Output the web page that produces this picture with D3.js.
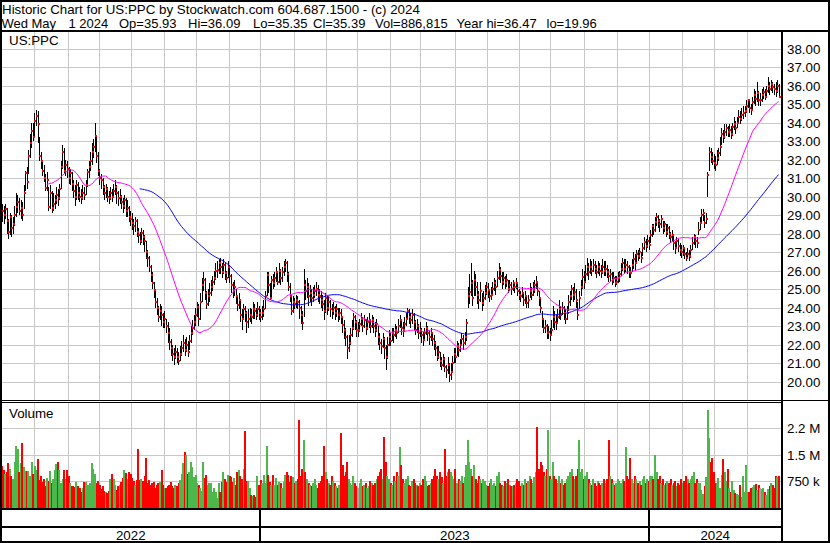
<!DOCTYPE html>
<html><head><meta charset="utf-8">
<script src="https://cdn.jsdelivr.net/npm/d3@7"></script>
<style>
html,body{margin:0;padding:0;background:#fff;}
svg{display:block;}
text{font-family:"Liberation Sans",Arial,sans-serif;font-size:13.33px;fill:#000;}
text.info{font-size:13px;}
</style></head>
<body><svg id="c" width="830" height="543"></svg>
<script>
// ---- DATA (daily bars, 2022-05-02 .. 2024-05-01) ----
const closes = [
29.2,29.0,29.3,28.7,28.1,28.9,28.3,28.5,29.0,29.45,
29.7,29.2,29.4,29.0,30.2,31.25,30.8,32.2,32.9,33.55,
33.2,34.1,34.36,33.9,32.2,31.9,31.4,31.0,30.46,30.9,
29.45,30.2,29.4,29.6,29.8,30.1,29.9,30.4,31.6,32.4,
31.4,31.7,31.5,31.0,31.25,30.7,30.3,30.0,30.6,30.2,
30.0,29.9,30.2,30.1,30.6,31.3,31.6,31.9,32.4,32.7,
33.3,32.2,31.4,31.0,30.9,30.5,30.2,30.4,30.0,29.9,
30.2,30.0,30.3,30.5,30.2,29.9,30.0,29.7,29.5,29.8,
29.2,29.4,28.9,28.8,28.55,28.4,28.7,28.1,27.9,27.6,
28.05,27.8,27.6,27.0,26.7,26.2,25.76,25.3,24.95,24.3,
24.0,23.5,23.8,23.6,23.2,23.4,23.0,22.6,22.16,21.8,
21.5,21.3,21.6,21.35,21.1,21.5,21.8,22.1,21.7,22.0,
21.6,22.2,22.6,22.9,23.2,23.6,24.05,23.4,24.3,25.2,
25.5,24.8,24.2,24.6,24.77,25.1,25.4,25.6,26.0,26.03,
26.4,26.2,25.9,26.3,25.85,25.6,26.2,25.7,25.2,24.95,
25.1,24.6,24.15,24.4,23.6,23.4,23.9,23.7,23.2,23.4,
23.6,23.5,23.9,23.8,23.6,23.9,23.7,23.5,23.7,23.9,
24.6,25.76,25.2,24.5,25.5,25.3,25.6,25.9,25.4,26.0,
25.6,25.9,26.2,26.4,25.8,25.13,24.6,23.8,24.3,24.2,
24.4,24.3,24.0,23.6,23.15,25.2,24.9,25.1,24.6,24.8,
24.5,24.7,24.9,25.0,24.7,24.6,24.4,24.2,23.8,24.5,
24.0,24.3,23.9,23.8,24.0,23.7,23.9,23.6,23.7,23.5,
23.06,22.8,22.4,21.8,22.07,22.5,22.9,23.5,23.2,22.8,
22.8,23.1,23.4,23.0,23.3,22.9,23.2,23.3,23.0,23.3,
23.0,22.8,23.1,22.4,22.07,21.9,22.3,21.8,21.3,22.0,
22.4,22.2,22.6,22.5,22.8,22.6,23.0,23.3,22.9,22.8,
23.1,23.4,23.8,23.5,23.3,23.6,23.2,22.8,23.0,22.6,
22.8,22.5,22.25,22.6,22.9,22.6,22.4,22.6,22.3,22.1,
21.8,21.35,21.6,21.1,20.9,21.2,20.8,20.6,20.9,20.36,
20.5,21.0,21.5,21.3,21.9,21.7,22.0,22.3,22.1,22.4,
23.15,24.6,24.86,25.3,24.5,25.5,25.1,24.7,24.4,24.9,
24.23,24.5,24.8,25.1,24.95,24.6,24.7,25.0,25.3,25.1,
25.6,26.03,25.7,25.4,25.6,25.3,25.5,25.0,25.2,25.0,
25.3,25.1,25.3,24.9,24.7,24.6,24.8,24.4,24.6,24.23,
24.4,24.9,24.7,24.95,25.2,25.4,24.9,24.5,23.96,23.4,
22.9,23.0,22.6,22.7,22.5,22.8,23.5,23.2,23.15,23.5,
23.9,23.6,24.0,23.7,23.4,23.7,24.3,24.6,25.0,24.7,
24.86,24.4,23.6,24.5,25.1,25.67,25.4,25.8,26.2,25.9,
26.2,26.0,26.3,26.1,25.9,26.2,26.0,25.94,26.2,26.0,
26.1,25.94,25.7,25.8,25.5,25.6,25.3,25.4,25.6,25.8,
26.1,26.4,26.1,26.3,26.2,25.9,25.85,26.3,26.6,26.4,
26.9,26.8,27.0,26.7,27.2,27.56,27.3,27.6,27.4,27.9,
28.4,28.2,28.6,28.9,28.7,28.5,28.8,28.3,28.5,28.1,
28.3,28.0,27.8,27.9,27.5,27.2,27.6,27.3,27.1,27.02,
27.2,26.9,26.7,26.9,26.8,27.1,27.5,27.8,27.6,27.5,
28.2,28.55,29.0,29.09,28.55,28.8,31.16,32.4,32.15,31.9,
31.8,31.7,32.1,32.33,32.7,33.4,33.2,33.5,33.68,33.5,
33.6,33.4,33.77,33.9,33.7,34.0,34.3,34.2,34.4,34.5,
34.6,34.9,35.2,34.8,34.67,35.1,35.5,35.3,35.6,35.2,
35.2,35.5,35.66,35.4,35.7,36.0,35.8,36.1,35.9,35.8,
35.7,35.95,35.39];

const highs = [
29.6,29.5,29.6,29.4,28.8,29.1,29.0,28.9,29.5,30.2,
30.1,29.9,29.8,29.7,30.6,31.4,31.6,32.5,33.4,33.95,
34.0,34.5,34.67,34.6,33.2,32.4,31.9,31.7,31.2,31.3,
30.5,30.6,30.3,30.2,30.1,30.5,30.4,30.7,31.9,32.8,
32.6,32.0,31.9,31.6,31.5,31.3,30.9,30.6,30.9,30.8,
30.5,30.4,30.6,30.5,30.9,31.5,31.9,32.4,32.9,33.1,
33.95,33.2,32.4,31.5,31.2,31.0,30.6,30.7,30.5,30.3,
30.5,30.4,30.7,30.9,30.6,30.3,30.4,30.1,29.9,30.1,
29.9,29.8,29.5,29.2,29.1,28.8,28.9,28.8,28.3,28.1,
28.3,28.2,27.9,27.6,27.1,26.8,26.3,25.9,25.4,25.0,
24.5,24.1,24.2,24.1,23.7,23.8,23.4,23.2,22.9,22.3,
22.0,21.8,22.0,21.8,21.6,21.9,22.2,22.5,22.3,22.4,
22.2,22.5,23.0,23.3,23.6,24.0,24.3,24.2,24.8,25.6,
25.9,25.6,24.9,25.0,25.3,25.5,25.7,26.0,26.4,26.5,
26.6,26.7,26.4,26.6,26.4,26.0,26.5,26.3,25.8,25.4,
25.5,25.0,24.7,24.8,24.4,23.9,24.2,24.1,23.8,23.9,
24.0,23.9,24.3,24.2,24.0,24.3,24.1,23.9,24.1,24.4,
24.9,25.9,25.9,25.3,25.7,25.8,25.9,26.2,26.0,26.4,
26.1,26.2,26.5,26.6,26.5,25.9,25.3,24.7,24.6,24.5,
24.7,24.6,24.4,24.1,23.8,26.1,25.5,25.6,25.3,25.2,
25.0,25.1,25.2,25.4,25.2,25.0,24.9,24.7,24.4,24.8,
24.6,24.6,24.4,24.2,24.3,24.1,24.2,24.0,24.0,23.9,
23.5,23.3,22.9,22.5,22.5,22.9,23.3,23.7,23.6,23.3,
23.2,23.4,23.7,23.5,23.6,23.4,23.5,23.7,23.4,23.6,
23.5,23.2,23.4,23.0,22.6,22.3,22.6,22.4,22.0,22.4,
22.8,22.6,22.9,22.9,23.1,23.0,23.4,23.6,23.4,23.2,
23.5,23.7,24.0,23.9,23.7,23.9,23.7,23.3,23.4,23.1,
23.2,22.9,22.7,22.9,23.2,23.0,22.8,22.9,22.7,22.5,
22.2,21.9,21.9,21.6,21.3,21.5,21.3,20.9,21.3,21.0,
21.0,21.4,21.8,21.8,22.2,22.1,22.3,22.6,22.5,22.7,
23.4,25.1,25.8,26.4,25.5,26.0,25.8,25.4,24.9,25.4,
24.8,24.9,25.2,25.4,25.3,25.0,25.1,25.4,25.6,25.5,
26.0,26.4,26.2,25.9,25.9,25.7,25.8,25.5,25.5,25.4,
25.5,25.4,25.6,25.3,25.0,24.9,25.1,24.8,24.9,24.6,
24.7,25.3,25.1,25.4,25.5,25.7,25.4,24.9,24.5,23.8,
23.3,23.3,23.1,23.0,22.9,23.3,24.1,23.8,23.6,23.9,
24.4,24.1,24.3,24.1,23.9,24.1,24.7,24.9,25.2,25.1,
25.3,25.0,24.3,24.9,25.5,26.1,26.0,26.3,26.7,26.4,
26.6,26.5,26.6,26.5,26.3,26.5,26.4,26.3,26.6,26.5,
26.5,26.3,26.1,26.1,25.9,25.9,25.7,25.7,25.9,26.0,
26.4,26.7,26.6,26.6,26.5,26.3,26.2,26.6,27.0,26.9,
27.1,27.1,27.2,27.0,27.5,27.8,27.7,27.9,27.8,28.2,
28.5,28.5,28.9,29.09,29.0,28.8,29.0,28.7,28.7,28.5,
28.5,28.4,28.1,28.2,27.9,27.6,27.8,27.7,27.5,27.4,
27.4,27.2,27.0,27.2,27.1,27.4,27.8,28.0,27.9,27.8,
28.6,28.9,29.3,29.3,29.0,29.1,31.3,32.7,32.6,32.4,
32.3,32.2,32.5,32.6,33.2,33.7,33.6,33.9,33.9,33.8,
33.9,33.8,34.0,34.3,34.1,34.3,34.7,34.6,34.8,34.9,
34.9,35.2,35.3,35.2,35.0,35.4,35.8,35.7,36.2,35.7,
35.6,35.8,35.9,35.8,36.0,36.47,36.2,36.3,36.2,36.1,
36.2,36.3,36.09];

const lows = [
28.6,28.5,28.8,28.0,27.7,27.9,27.8,28.0,28.4,28.9,
29.1,29.0,28.8,28.7,29.3,30.3,30.4,31.2,32.1,32.6,
33.0,33.2,33.8,32.9,31.9,31.5,31.1,30.8,30.3,30.3,
29.2,29.3,29.1,29.2,29.3,29.6,29.5,29.8,30.4,31.5,
31.2,31.1,31.0,30.7,30.6,30.3,29.9,29.5,29.8,29.8,
29.7,29.6,29.8,29.8,30.1,30.5,31.0,31.4,31.7,32.1,
32.4,31.8,31.1,30.6,30.4,30.1,29.8,29.9,29.7,29.6,
29.8,29.7,29.9,30.1,29.6,29.5,29.6,29.3,29.1,29.3,
28.9,28.9,28.6,28.4,28.2,27.9,28.1,27.8,27.5,27.4,
27.5,27.4,27.0,26.6,26.2,25.9,25.4,25.0,24.5,24.0,
23.6,23.2,23.3,23.0,22.9,22.9,22.6,22.1,21.7,21.4,
21.1,20.9,21.2,21.0,20.9,21.1,21.4,21.6,21.4,21.6,
21.3,21.7,22.1,22.5,22.8,23.0,23.5,23.0,23.3,24.3,
24.9,24.4,23.9,24.1,24.3,24.6,24.9,25.2,25.5,25.6,
25.8,25.8,25.6,25.8,25.5,25.3,25.6,25.3,24.8,24.5,
24.6,24.2,23.8,23.9,23.2,22.8,23.3,23.2,22.6,22.9,
23.2,23.1,23.4,23.4,23.3,23.5,23.3,23.2,23.3,23.5,
23.9,24.6,24.8,24.4,24.5,25.0,25.1,25.4,25.2,25.3,
25.2,25.4,25.7,25.9,25.4,24.9,24.3,23.6,23.7,23.9,
24.0,23.9,23.4,23.1,22.8,23.5,24.4,24.5,24.1,24.3,
24.1,24.3,24.5,24.6,24.3,24.2,24.0,23.8,23.3,23.7,
23.6,23.8,23.5,23.4,23.6,23.3,23.5,23.2,23.3,23.1,
22.6,22.3,21.9,21.2,21.6,22.0,22.4,22.8,22.8,22.4,
22.4,22.7,23.0,22.7,22.9,22.5,22.8,22.9,22.6,22.9,
22.6,22.4,22.7,22.0,21.7,21.5,21.8,21.2,20.63,21.2,
21.9,21.9,22.2,22.1,22.4,22.3,22.6,22.9,22.5,22.4,
22.7,23.0,23.3,23.1,22.9,23.1,22.8,22.5,22.6,22.3,
22.4,22.1,21.9,22.2,22.5,22.2,22.0,22.2,21.9,21.7,
21.4,21.1,21.2,20.8,20.6,20.8,20.5,20.2,20.4,19.96,
20.1,20.5,21.0,21.0,21.4,21.3,21.6,21.9,21.7,22.0,
22.2,24.0,24.2,24.6,24.1,24.6,24.6,24.2,23.9,24.3,
23.8,24.1,24.4,24.7,24.5,24.3,24.4,24.6,24.9,24.7,
25.1,25.5,25.3,25.0,25.2,25.0,25.1,24.8,24.9,24.7,
24.9,24.8,25.0,24.6,24.4,24.3,24.5,24.1,24.2,24.0,
24.0,24.5,24.4,24.6,24.8,25.0,24.6,24.1,23.7,22.9,
22.6,22.6,22.3,22.3,22.2,22.5,22.9,22.8,22.8,23.1,
23.4,23.3,23.6,23.3,23.1,23.3,23.8,24.1,24.4,24.3,
24.4,24.0,23.3,23.9,24.6,25.0,25.0,25.3,25.7,25.5,
25.8,25.7,25.9,25.8,25.6,25.8,25.7,25.6,25.8,25.7,
25.7,25.6,25.4,25.4,25.2,25.3,25.1,25.2,25.3,25.4,
25.7,26.0,25.8,25.9,25.8,25.6,25.6,25.9,26.1,26.0,
26.4,26.5,26.6,26.4,26.8,27.1,27.0,27.2,27.1,27.5,
27.8,27.9,28.1,28.4,28.3,28.1,28.3,28.0,28.1,27.8,
27.9,27.7,27.5,27.6,27.1,26.9,27.2,27.0,26.8,26.7,
26.8,26.6,26.5,26.6,26.5,26.7,27.1,27.4,27.2,27.2,
27.9,28.2,28.6,28.7,28.3,28.5,29.96,31.4,31.8,31.7,
31.5,31.4,31.7,31.9,32.2,32.8,32.9,33.1,33.3,33.2,
33.2,33.1,33.3,33.6,33.4,33.7,34.0,33.9,34.1,34.2,
34.3,34.5,34.8,34.5,34.4,34.7,35.0,34.9,35.1,34.9,
34.9,35.1,35.3,35.2,35.4,35.6,35.5,35.7,35.6,35.5,
35.4,35.6,35.35];

// volume in thousands of shares
const volumes = [
1180,1050,950,1000,1260,1100,900,820,1300,1740,
1650,1000,1250,1820,1150,1020,1020,1020,900,1300,
950,1180,1050,1380,780,900,720,800,620,830,
740,1030,680,800,1060,1230,1300,1060,700,800,
1060,820,1060,900,680,620,600,580,720,620,
550,450,550,720,720,640,640,700,1250,1100,
950,700,760,640,520,600,480,450,400,470,
820,960,800,650,500,600,650,720,830,1060,
980,820,1000,940,830,760,640,780,1650,790,
800,760,900,1390,680,780,640,700,720,560,
640,700,720,1060,630,560,560,600,640,720,
600,540,640,610,700,780,960,1270,1580,1500,
950,1000,1300,1150,850,920,700,640,560,480,
1300,830,920,640,700,680,450,540,450,260,
680,450,730,1010,800,730,920,880,850,730,
830,640,1010,1060,900,800,1100,2170,740,760,
540,350,330,350,300,890,640,780,700,920,
700,1740,920,730,640,920,640,830,640,730,
680,540,730,920,1010,920,730,880,850,700,
750,820,2480,900,1100,1900,1000,800,700,650,
600,700,800,650,550,700,750,900,1750,1000,
800,700,650,900,750,700,600,550,650,2100,
1200,900,1000,1300,800,700,650,900,700,600,
550,700,800,600,650,700,550,600,750,700,
650,700,800,900,1000,1100,800,2000,1300,900,
800,700,650,900,750,1000,900,1700,1200,800,
700,800,900,650,600,750,800,700,650,600,
700,650,800,900,750,600,650,700,800,900,
1100,900,800,1000,850,700,1650,900,1000,1100,
1000,900,800,1100,700,800,750,900,700,850,
1200,1900,1300,1100,900,1200,800,700,900,800,
700,800,750,650,600,700,800,650,700,600,
900,1000,700,650,600,750,700,800,650,600,
600,650,700,800,750,600,700,650,800,700,
750,900,800,700,850,1000,2280,1100,1300,1200,
1000,900,1100,2200,900,800,1300,900,800,700,
900,700,800,650,700,800,900,1000,1100,900,
800,900,1100,1900,1000,1100,800,900,1000,800,
700,650,800,700,600,750,700,650,700,800,
700,800,1900,900,800,700,650,700,800,750,
700,800,750,1700,900,800,1400,800,700,900,
800,700,750,650,800,900,700,800,750,900,
900,800,1500,1000,800,900,700,800,650,700,
750,700,800,650,700,750,600,700,650,800,
700,750,900,800,700,800,900,1000,700,800,
700,690,500,390,600,870,2760,1960,1300,1390,
1010,700,680,830,540,920,1370,1010,750,1100,
540,450,750,500,400,380,360,650,300,880,
450,1200,430,450,540,590,640,660,500,640,
540,520,540,450,350,520,600,700,650,550,
900,850,880];

const priceTicks = [20,21,22,23,24,25,26,27,28,29,30,31,32,33,34,35,36,37,38];
const volumeTicks = [750, 1500, 2250];
const volumeTickLabels = ["750 k", "1.5 M", "2.2 M"];
const monthStarts = [21,43,63,84,105,126,147,167.5,189,210,230,251,271,293,314,335,355,376.5,398,419,440,461,482];
const yearLabels = ["2022","2023","2024"];
const yearStarts = [0,167.5,419];
const maShort = 30, maLong = 90;
const title = "Historic Chart for US:PPC by Stockwatch.com 604.687.1500 - (c) 2024";
const infoParts = ["Wed","May","1 2024","Op=35.93","Hi=36.09","Lo=35.35","Cl=35.39","Vol=886,815","Year hi=36.47","lo=19.96"];
const symbol = "US:PPC";

// ---- CHECK ----
const N = closes.length;
if (highs.length !== N || lows.length !== N || volumes.length !== N) throw new Error("len " + N + " " + highs.length + " " + lows.length + " " + volumes.length);

// ---- LAYOUT ----
const W = 830, H = 543;
const plotL = 2, plotR = 781;
const priceT = 32, priceB = 400, volT = 403, volB = 508;
const svg = d3.select("#c");
svg.append("rect").attr("width", W).attr("height", H).attr("fill", "#fff");

const x = d3.scaleLinear().domain([0, 502]).range([2, 778.6]);
const y = d3.scaleLinear().domain([19, 38.95]).range([400, 31]);
const yv = d3.scaleLinear().domain([0, 2960]).range([507.5, 403]);

// grid
const grid = svg.append("g").attr("stroke", "#c8c8c8").attr("stroke-width", 1).attr("shape-rendering", "crispEdges");
priceTicks.forEach(p => {
  const gy = Math.round(y(p)) + 0.5;
  grid.append("line").attr("x1", plotL).attr("x2", plotR).attr("y1", gy).attr("y2", gy);
});
volumeTicks.forEach(v => {
  const gy = Math.round(yv(v)) + 0.5;
  grid.append("line").attr("x1", plotL).attr("x2", plotR).attr("y1", gy).attr("y2", gy);
});
monthStarts.forEach(m => {
  const gx = Math.round(x(m - 0.5)) + 0.5;
  grid.append("line").attr("x1", gx).attr("x2", gx).attr("y1", priceT).attr("y2", priceB);
  grid.append("line").attr("x1", gx).attr("x2", gx).attr("y1", volT).attr("y2", volB);
});

// volume bars
const vg = svg.append("g").attr("shape-rendering", "crispEdges");
volumes.forEach((v, i) => {
  let c = "#ff0000";
  if (i > 0) c = closes[i] > closes[i - 1] ? "#4cb84c" : (closes[i] < closes[i - 1] ? "#ff0000" : "#a8a8a8");
  const bx = Math.round(x(i) - 0.8);
  const ty = Math.round(yv(v));
  vg.append("rect").attr("x", bx).attr("y", ty).attr("width", 2).attr("height", volB - ty).attr("fill", c);
});

// price bars
const pg = svg.append("g").attr("shape-rendering", "crispEdges");
closes.forEach((c, i) => {
  const bx = Math.round(x(i));
  const yt = Math.round(y(highs[i])), yb = Math.round(y(lows[i]));
  pg.append("rect").attr("x", bx).attr("y", yt).attr("width", 1).attr("height", Math.max(1, yb - yt)).attr("fill", "#000");
});
closes.forEach((c, i) => {
  const bx = Math.round(x(i));
  pg.append("rect").attr("x", bx).attr("y", Math.round(y(c)) - 1).attr("width", 2).attr("height", 2).attr("fill", "#ff0000");
});

// moving averages
function movingAvg(n) {
  return closes.map((c, i) => i < n - 1 ? null : d3.mean(closes.slice(i - n + 1, i + 1)));
}
const line = d3.line().defined(d => d != null).x((d, i) => x(i)).y(d => y(d));
svg.append("path").datum(movingAvg(maLong)).attr("d", line).attr("fill", "none").attr("stroke", "#0000ff").attr("stroke-width", 1);
svg.append("path").datum(movingAvg(maShort)).attr("d", line).attr("fill", "none").attr("stroke", "#ff00ff").attr("stroke-width", 1);

// frame
const fg = svg.append("g").attr("fill", "#000").attr("shape-rendering", "crispEdges");
function box(x0, y0, w, h) { fg.append("rect").attr("x", x0).attr("y", y0).attr("width", w).attr("height", h); }
box(0, 0, W, 2);
box(0, 0, 2, H);
box(W - 2, 0, 2, H);
box(0, H - 2, W, 2);
box(0, 30, W, 2);
box(781, 30, 2, H - 30);
box(0, 400, W, 1);
box(0, 402, 782, 1);
box(0, 508, 782, 2);
box(0, 526, 782, 2);
yearStarts.slice(1).forEach(s => box(Math.round(x(s - 0.5)) - 1, 510, 2, 31));

// texts
svg.append("text").attr("x", 2).attr("y", 13.5).text(title);
const infoX = [1.5, 31.5, 68.5, 119, 188, 253, 313, 375, 456.5, 546.5];
infoParts.forEach((t, k) => svg.append("text").attr("class", "info").attr("x", infoX[k]).attr("y", 27.5).text(t));
svg.append("text").attr("x", 9).attr("y", 45).text(symbol);
svg.append("text").attr("x", 9).attr("y", 417.5).text("Volume");
priceTicks.forEach(p => svg.append("text").attr("x", 787).attr("y", y(p) + 5).text(p.toFixed(2)));
volumeTicks.forEach((v, k) => svg.append("text").attr("x", 787).attr("y", yv(v) + 5).text(volumeTickLabels[k]));
yearLabels.forEach((lab, k) => {
  const a = x(yearStarts[k] - 0.5);
  const b = k + 1 < yearStarts.length ? x(yearStarts[k + 1] - 0.5) : plotR;
  svg.append("text").attr("x", (a + b) / 2).attr("y", 539.5).attr("text-anchor", "middle").text(lab);
});
</script>
</body></html>
